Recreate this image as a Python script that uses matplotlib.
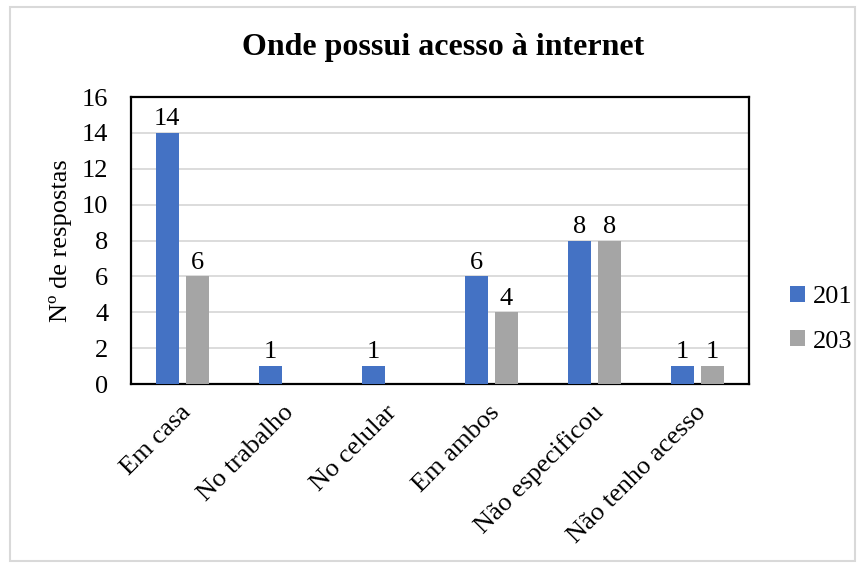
import matplotlib.pyplot as plt
import numpy as np
from matplotlib.patches import Rectangle

plt.rcParams['font.family'] = ['Liberation Serif', 'DejaVu Serif']

categorias = ['Em casa', 'No trabalho', 'No celular', 'Em ambos', 'Não especificou', 'Não tenho acesso']
turma_201 = [14, 1, 1, 6, 8, 1]
turma_203 = [6, 0, 0, 4, 8, 1]
series = ['201', '203']

azul = '#4472C4'
cinza = '#A5A5A5'
fs = 19

fig = plt.figure(figsize=(8.65, 5.64), dpi=100)
ax = fig.add_axes([0.151, 0.319, 0.715, 0.509])

# moldura cinza em volta do gráfico
fig.patches.append(Rectangle((0.011, 0.006), 0.977, 0.982, transform=fig.transFigure,
                             fill=False, edgecolor='#D9D9D9', linewidth=1.5))

x = np.arange(len(categorias))
largura = 0.225
desloc = 0.145
b1 = ax.bar(x - desloc, turma_201, largura, color=azul, label=series[0], zorder=3)
b2 = ax.bar(x + desloc, turma_203, largura, color=cinza, label=series[1], zorder=3)

# rótulos de valor (zeros não aparecem)
for barras, vals in ((b1, turma_201), (b2, turma_203)):
    for r, v in zip(barras, vals):
        if v > 0:
            ax.text(r.get_x() + r.get_width() / 2, v + 0.15, str(v), ha='center', va='bottom',
                    fontsize=fs)

ax.set_xlim(-0.5, len(categorias) - 0.5)
ax.set_ylim(0, 16)
ax.set_yticks(range(0, 17, 2))
ax.tick_params(axis='y', labelsize=fs, length=0, pad=16)
ax.tick_params(axis='x', labelsize=fs, length=0, pad=18)
ax.set_xticks(x + 0.05)
ax.set_xticklabels(categorias, rotation=45, ha='right', va='center', rotation_mode='anchor')
ax.yaxis.grid(True, color='#D9D9D9', linewidth=1.3, zorder=0)
ax.set_axisbelow(True)
for s in ax.spines.values():
    s.set_linewidth(1.6)
    s.set_color('black')

ax.set_ylabel('Nº de respostas', fontsize=fs, labelpad=7)
fig.text(0.512, 0.915, 'Onde possui acesso à internet', ha='center', va='center',
         fontsize=23, fontweight='bold')

ax.legend(loc='center left', bbox_to_anchor=(1.028, 0.226), frameon=False, fontsize=fs,
          handlelength=0.55, handleheight=0.55, handletextpad=0.3, labelspacing=0.85)

plt.savefig('out.png', dpi=100)
